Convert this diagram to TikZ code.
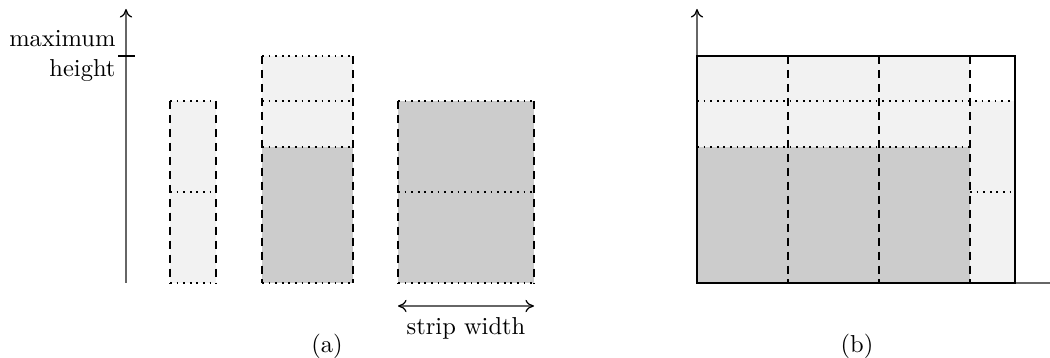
\documentclass[tikz,border=0pt]{standalone}
\usetikzlibrary{arrows.meta}
\definecolor{lightfill}{HTML}{F2F2F2}
\definecolor{darkfill}{HTML}{CCCCCC}
\tikzset{
  vside/.style={dash pattern=on 3.3pt off 2.4pt, line width=0.6pt},
  hside/.style={dotted, line width=0.7pt},
  axisline/.style={black!60, line width=0.5pt},
  tip/.style={To[length=3.5pt,width=5pt,color=black]},
  frame/.style={line width=1pt},
  lbl/.style={inner sep=0pt, font=\normalsize}
}
\begin{document}
\begin{tikzpicture}[x=0.01435cm, y=-0.01435cm]
\useasboundingbox (0,0) rectangle (1050,358);
% ---------------- (a) ----------------
\coordinate (axA0) at (126,283);
\coordinate (axA1) at (126,9);
\draw[axisline,-{To[length=3.5pt,width=5pt,color=black]}] (axA0) -- (axA1);
\coordinate (tickL) at (118,56);
\coordinate (tickR) at (135,56);
\draw[line width=0.5pt] (tickL) -- (tickR);
\node[lbl, align=right, anchor=east] (maxh) at (116,56) {maximum\\height};
% box 1
\fill[lightfill] (170,101) rectangle (216,283);
\draw[vside] (170,101) -- (170,283) (216,101) -- (216,283);
\draw[hside] (170,101) -- (216,101) (170,192) -- (216,192) (170,283) -- (216,283);
% box 2
\fill[lightfill] (262,56) rectangle (353,147);
\fill[darkfill] (262,147) rectangle (353,283);
\draw[vside] (262,56) -- (262,283) (353,56) -- (353,283);
\draw[hside] (262,56) -- (353,56) (262,101) -- (353,101) (262,147) -- (353,147) (262,283) -- (353,283);
% box 3
\fill[darkfill] (398,101) rectangle (534,283);
\draw[vside] (398,101) -- (398,283) (534,101) -- (534,283);
\draw[hside] (398,101) -- (534,101) (398,192) -- (534,192) (398,283) -- (534,283);
% strip width
\coordinate (swL) at (398,306);
\coordinate (swR) at (534,306);
\draw[axisline,{To[length=3.5pt,width=5pt,color=black]}-{To[length=3.5pt,width=5pt,color=black]}] (swL) -- (swR);
\node[lbl] (sw) at (466,328) {strip width};
\node[lbl] (capa) at (327,346) {(a)};
% ---------------- (b) ----------------
\fill[lightfill] (697,56) rectangle (970,147);
\fill[darkfill] (697,147) rectangle (970,283);
\fill[lightfill] (970,101) rectangle (1015,283);
\draw[hside] (697,101) -- (1012,101) (697,147) -- (970,147) (970,192) -- (1012,192);
\draw[vside] (788,56) -- (788,283) (879,56) -- (879,283) (970,56) -- (970,283);
\coordinate (axB0) at (697,283);
\coordinate (axB1) at (697,9);
\coordinate (axB2) at (1050,283);
\draw[axisline,-{To[length=3.5pt,width=5pt,color=black]}] (axB0) -- (axB1);
\draw[axisline] (axB0) -- (axB2);
\draw[frame] (697,56) rectangle (1015,283);
\node[lbl] (capb) at (857,346) {(b)};
\end{tikzpicture}
\end{document}
